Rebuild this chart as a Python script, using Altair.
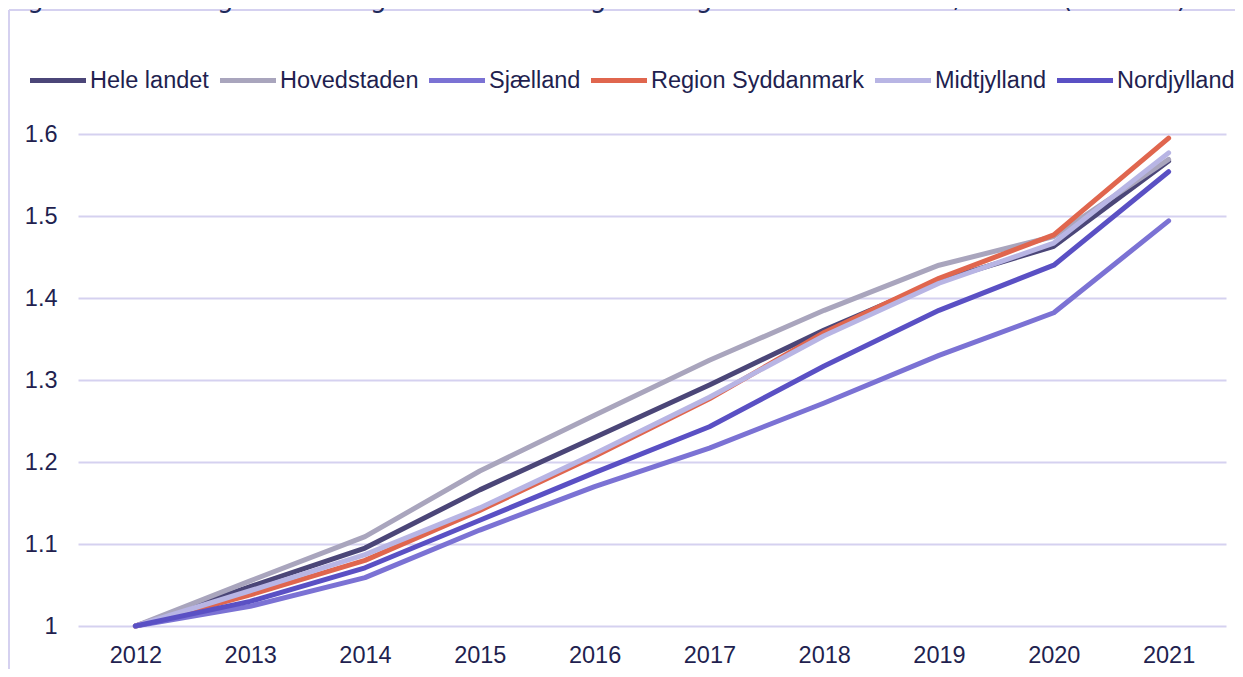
import altair as alt
import pandas as pd

years = ["2012", "2013", "2014", "2015", "2016", "2017", "2018", "2019", "2020", "2021"]
regions = ["Hele landet", "Hovedstaden", "Sjælland", "Region Syddanmark", "Midtjylland", "Nordjylland"]
hele_landet = [1.000, 1.048, 1.095, 1.166, 1.230, 1.294, 1.361, 1.421, 1.463, 1.567]
hovedstaden = [1.000, 1.055, 1.109, 1.189, 1.257, 1.324, 1.385, 1.440, 1.475, 1.569]
sjaelland = [1.000, 1.024, 1.059, 1.117, 1.170, 1.217, 1.272, 1.330, 1.382, 1.494]
syddanmark = [1.000, 1.038, 1.080, 1.141, 1.207, 1.277, 1.358, 1.424, 1.477, 1.595]
midtjylland = [1.000, 1.043, 1.087, 1.144, 1.210, 1.279, 1.354, 1.418, 1.467, 1.577]
nordjylland = [1.000, 1.030, 1.071, 1.129, 1.187, 1.243, 1.317, 1.385, 1.440, 1.554]
colors = ["#4b4678", "#a9a5bd", "#7b72d4", "#e0664e", "#b8b5e4", "#5a50c4"]
y_ticks = [1.0, 1.1, 1.2, 1.3, 1.4, 1.5, 1.6]
title_text = "Figur 2: Udvikling i beskæftigede med en lang videregående uddannelse, indeks (2012=1)"

series = [hele_landet, hovedstaden, sjaelland, syddanmark, midtjylland, nordjylland]
rows = []
for name, vals in zip(regions, series):
    for yr, v in zip(years, vals):
        rows.append({"Year": yr, "Value": v, "Region": name})
df = pd.DataFrame(rows)

FONT = "Liberation Sans"
TXT = "#221f4f"
GRID = "#d5d1f0"

lines = alt.Chart(df).mark_line(strokeWidth=5, strokeCap="round", strokeJoin="round").encode(
    x=alt.X("Year:N", sort=years,
            scale=alt.Scale(type="point", padding=0.5),
            axis=alt.Axis(title=None, labelAngle=0, ticks=False, tickSize=0, domain=False, grid=False,
                          labelFontSize=23.5, labelColor=TXT, labelFont=FONT, labelPadding=17)),
    y=alt.Y("Value:Q",
            scale=alt.Scale(domain=[1.0, 1.6], nice=False, zero=False),
            axis=alt.Axis(title=None, values=y_ticks, format="~g", ticks=False, tickSize=0, domain=False,
                          grid=True, gridColor=GRID, gridWidth=2,
                          labelFontSize=23.5, labelColor=TXT, labelFont=FONT, labelPadding=21)),
    color=alt.Color("Region:N", sort=regions,
                    scale=alt.Scale(domain=regions, range=colors),
                    legend=alt.Legend(title=None, orient="none", legendX=-50.5, legendY=-84,
                                      direction="horizontal", symbolType="stroke", symbolSize=3136,
                                      symbolStrokeWidth=5, labelFontSize=23.5, labelFont=FONT,
                                      labelColor=TXT, labelOffset=1.5, columnPadding=0, padding=0,
                                      labelLimit=0)),
)

border_top = alt.Chart().mark_rule(color=GRID, strokeWidth=2).encode(
    x=alt.value(-69), x2=alt.value(1200), y=alt.value(-124))
border_left = alt.Chart().mark_rule(color=GRID, strokeWidth=2).encode(
    x=alt.value(-69), y=alt.value(-124), y2=alt.value(560))
title = alt.Chart().mark_text(align="left", baseline="alphabetic", fontSize=26, font="DejaVu Sans",
                              color="#1f2a5a", text=title_text).encode(
    x=alt.value(-71), y=alt.value(-127))

chart = alt.layer(border_top, border_left, title, lines).properties(
    width=1148, height=492,
    autosize=alt.AutoSizeParams(type="none"),
    padding={"left": 70, "top": 126, "right": 9, "bottom": 43},
).configure_view(stroke=None)

chart.save("out.html", embed_options={"renderer": "svg", "actions": False})
